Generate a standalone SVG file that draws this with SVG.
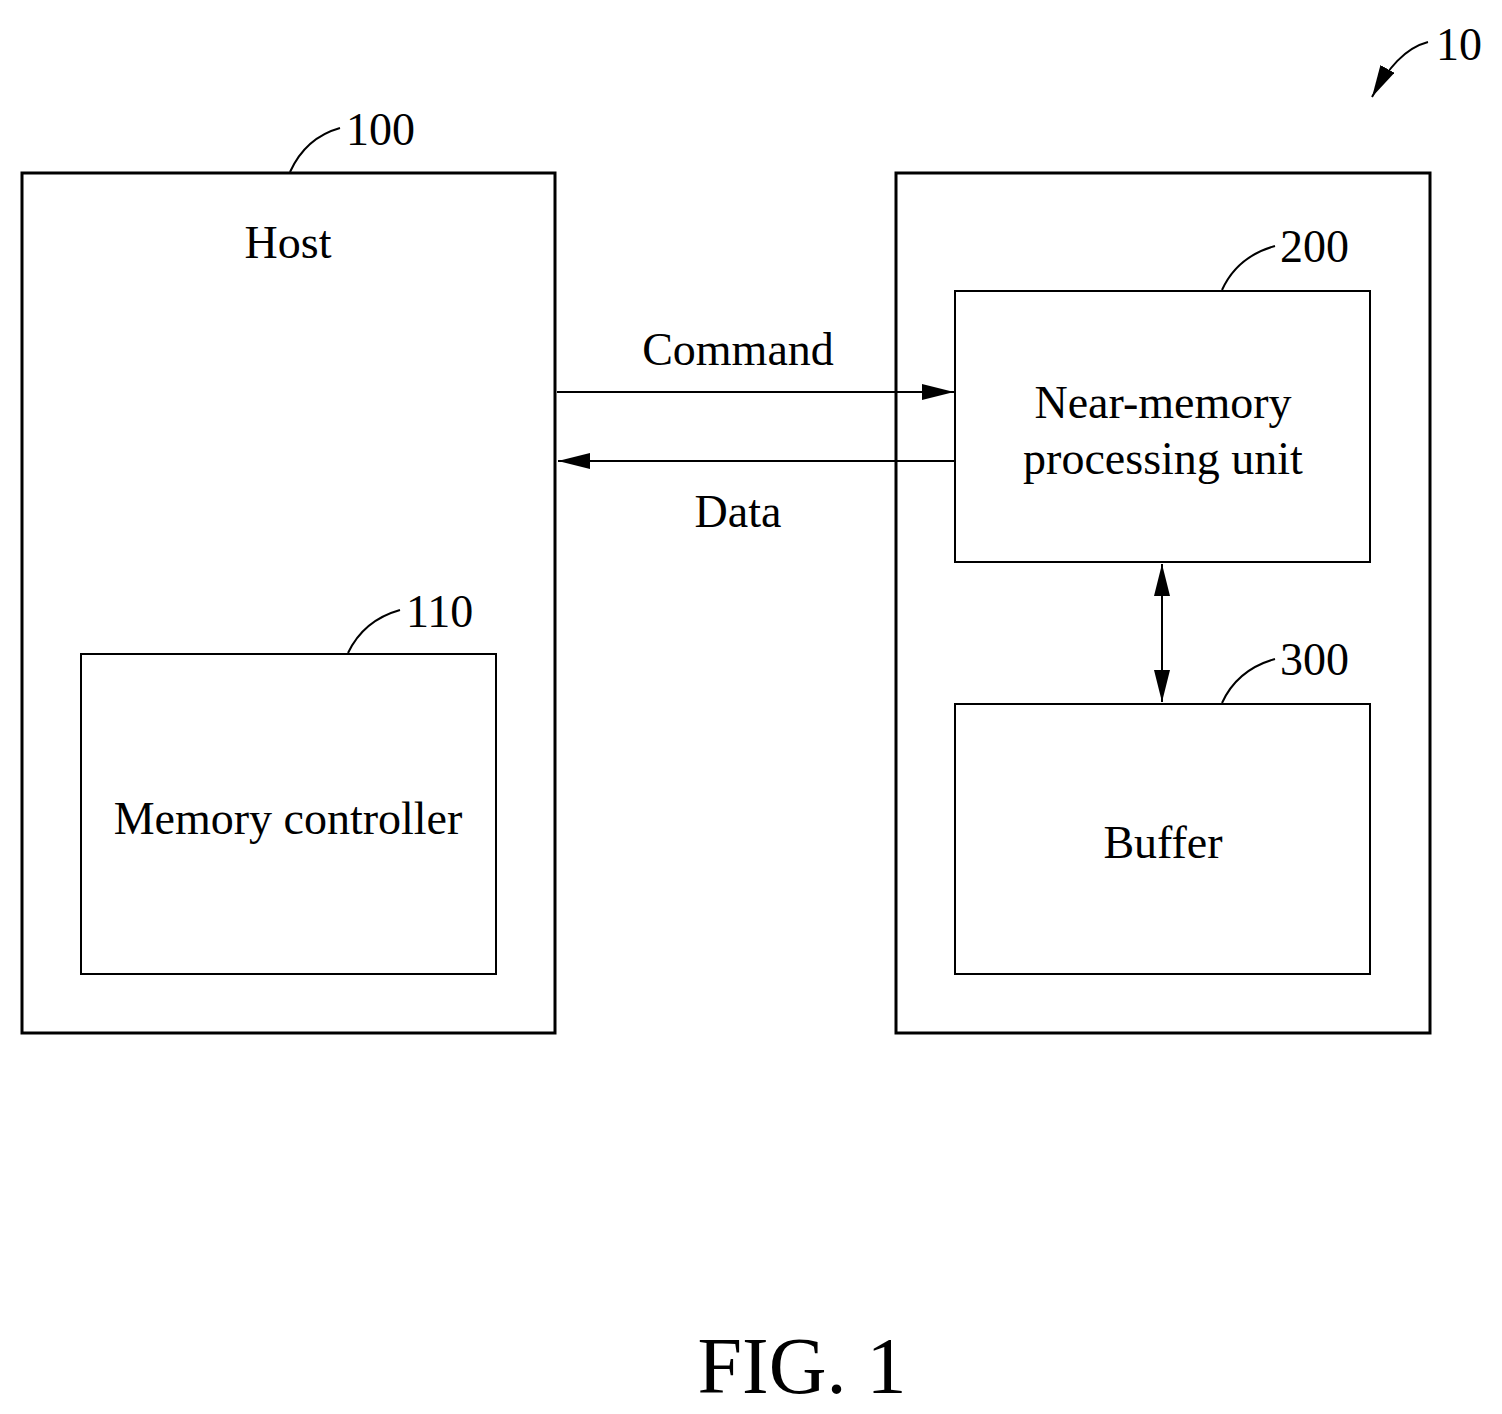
<svg xmlns="http://www.w3.org/2000/svg" width="1502" height="1414" viewBox="0 0 1502 1414">
<style>
text{font-family:"Liberation Serif","Times New Roman",serif;fill:#000}
.l{font-size:46px}
.t{font-size:46px;text-anchor:middle}
.b{fill:none;stroke:#000}
</style>
<defs>
<marker id="ah" viewBox="0 0 20 10" refX="20" refY="5" markerWidth="32" markerHeight="16" markerUnits="userSpaceOnUse" orient="auto-start-reverse"><path d="M0,0 L20,5 L0,10 Z" fill="#000"/></marker>
</defs>
<rect width="1502" height="1414" fill="#fff"/>
<g id="host"><rect class="b" x="22" y="173" width="533" height="860" stroke-width="3"/><text class="t" x="288" y="258">Host</text>
<path class="b" d="M290,172 C300,150 315,135 340,128" stroke-width="2"/><text class="l" x="346" y="145">100</text></g>
<g id="mc"><rect class="b" x="81" y="654" width="415" height="320" stroke-width="2"/><text class="t" x="288" y="834">Memory controller</text>
<path class="b" d="M348,653 C358,632 375,617 400,610" stroke-width="2"/><text class="l" x="406" y="627">110</text></g>
<g id="device"><rect class="b" x="896" y="173" width="534" height="860" stroke-width="3"/></g>
<g id="nmp"><rect class="b" x="955" y="291" width="415" height="271" stroke-width="2"/><text class="t" x="1163" y="418">Near-memory</text><text class="t" x="1163" y="474">processing unit</text>
<path class="b" d="M1222,290 C1232,268 1250,253 1275,246" stroke-width="2"/><text class="l" x="1280" y="262">200</text></g>
<g id="buffer"><rect class="b" x="955" y="704" width="415" height="270" stroke-width="2"/><text class="t" x="1163" y="858">Buffer</text>
<path class="b" d="M1222,703 C1232,681 1250,666 1275,659" stroke-width="2"/><text class="l" x="1280" y="675">300</text></g>
<g id="connectors" stroke="#000" stroke-width="2" fill="none">
<line x1="557" y1="392" x2="954" y2="392" marker-end="url(#ah)"/>
<line x1="954" y1="461" x2="558" y2="461" marker-end="url(#ah)"/>
<line x1="1162" y1="564" x2="1162" y2="702" marker-start="url(#ah)" marker-end="url(#ah)"/>
<path d="M1428,42 C1405,48 1388,68 1372,97" marker-end="url(#ah)"/>
</g>
<text class="t" x="738" y="365">Command</text>
<text class="t" x="738" y="527">Data</text>
<text class="l" x="1436" y="60">10</text>
<text x="802" y="1393" style="font-size:80px;text-anchor:middle">FIG. 1</text>
</svg>
